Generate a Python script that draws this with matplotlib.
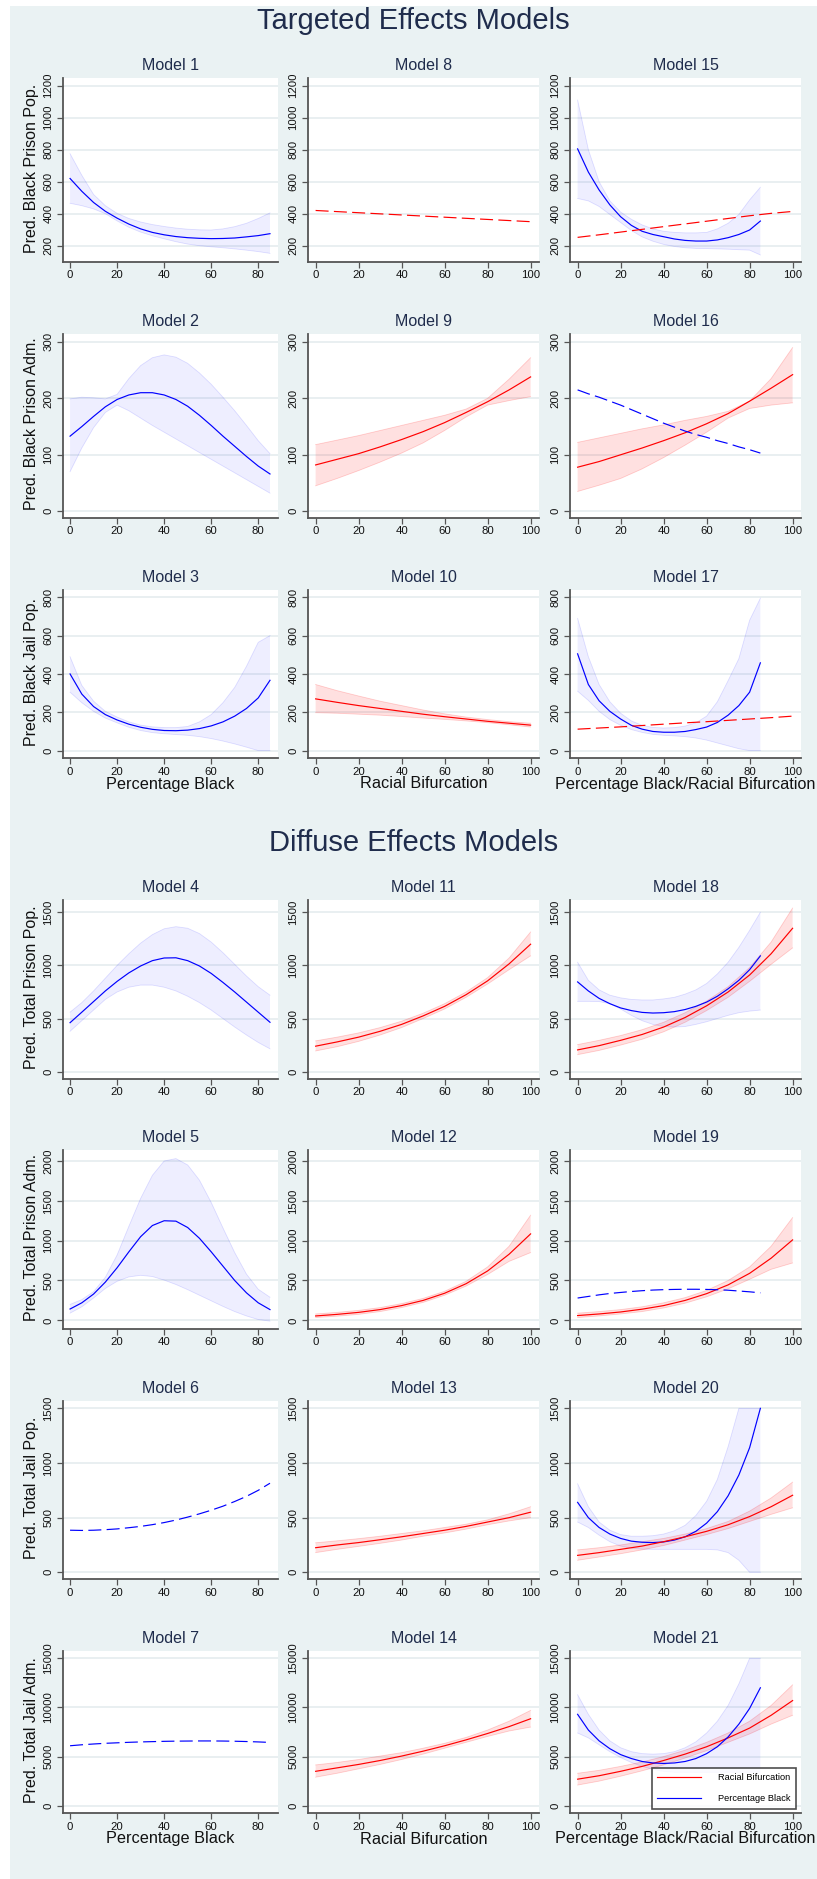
import matplotlib
matplotlib.use("Agg")
import matplotlib.pyplot as plt
from matplotlib.lines import Line2D
from matplotlib.patches import Rectangle

plt.rcParams["font.family"] = ["Liberation Sans", "DejaVu Sans"]

# x grids
pb = [0, 5, 10, 15, 20, 25, 30, 35, 40, 45, 50, 55, 60, 65, 70, 75, 80, 85]
rb = [0, 10, 20, 30, 40, 50, 60, 70, 80, 90, 100]

# ---- Targeted effects ----
m1_fit = [620, 540, 470, 415, 372, 335, 305, 283, 268, 257, 250, 246, 244, 245, 248, 255, 263, 275]
m1_hi = [775, 640, 520, 450, 402, 370, 348, 332, 320, 310, 303, 299, 298, 305, 319, 340, 370, 405]
m1_lo = [465, 450, 430, 400, 355, 315, 285, 262, 243, 225, 210, 200, 193, 187, 180, 172, 163, 152]

m8_rb = [420, 413, 406, 399, 392, 385, 378, 371, 364, 357, 350]

m15_fit = [805, 660, 548, 455, 381, 327, 290, 270, 256, 242, 233, 229, 229, 236, 250, 270, 298, 354]
m15_hi = [1110, 800, 600, 480, 410, 365, 330, 305, 290, 283, 280, 280, 283, 305, 340, 395, 486, 565]
m15_lo = [495, 480, 445, 395, 345, 295, 255, 228, 208, 195, 187, 183, 182, 180, 178, 175, 172, 142]
m15_rb = [252, 268, 285, 302, 319, 336, 353, 370, 387, 402, 414]

m2_fit = [133, 150, 168, 185, 198, 206, 210, 210, 206, 198, 186, 170, 152, 133, 115, 97, 80, 66]
m2_hi = [199, 202, 201, 199, 207, 235, 258, 272, 277, 273, 262, 245, 225, 202, 178, 152, 125, 102]
m2_lo = [70, 112, 148, 175, 188, 178, 165, 152, 140, 128, 116, 104, 92, 80, 68, 56, 44, 32]

m9_fit = [82, 92, 102, 114, 127, 141, 157, 175, 194, 215, 238]
m9_hi = [118, 126, 134, 143, 152, 161, 170, 181, 200, 234, 272]
m9_lo = [45, 58, 72, 87, 103, 121, 143, 167, 188, 196, 203]

m16_fit = [78, 88, 100, 112, 125, 139, 155, 173, 195, 218, 242]
m16_hi = [122, 130, 138, 146, 153, 161, 168, 177, 195, 235, 290]
m16_lo = [35, 46, 58, 75, 95, 117, 140, 165, 182, 188, 192]
m16_pb = [215, 208, 202, 195, 188, 180, 172, 164, 156, 149, 142, 136, 131, 125, 120, 114, 109, 103]

m3_fit = [400, 295, 230, 188, 160, 138, 122, 111, 105, 104, 107, 115, 129, 150, 180, 220, 275, 367]
m3_hi = [490, 340, 258, 205, 175, 150, 133, 124, 120, 120, 126, 150, 188, 250, 330, 440, 565, 600]
m3_lo = [305, 250, 205, 170, 145, 122, 105, 94, 88, 84, 80, 73, 63, 50, 35, 18, 0, 0]

m10_fit = [270, 252, 235, 220, 205, 190, 177, 165, 153, 143, 133]
m10_hi = [345, 313, 285, 258, 235, 212, 192, 175, 162, 151, 143]
m10_lo = [198, 195, 190, 185, 178, 170, 163, 155, 146, 135, 123]

m17_fit = [505, 345, 260, 205, 165, 132, 112, 100, 96, 96, 100, 110, 123, 147, 185, 235, 305, 458]
m17_hi = [690, 490, 345, 255, 195, 155, 132, 121, 118, 120, 128, 145, 180, 255, 365, 480, 680, 795]
m17_lo = [310, 262, 205, 162, 132, 110, 95, 85, 80, 77, 73, 66, 55, 40, 25, 10, 0, 0]
m17_rb = [112, 118, 124, 131, 138, 145, 151, 158, 165, 172, 180]

# ---- Diffuse effects ----
m4_fit = [461, 560, 660, 760, 850, 930, 995, 1045, 1070, 1072, 1045, 995, 925, 840, 750, 655, 560, 465]
m4_hi = [560, 650, 760, 880, 1000, 1110, 1210, 1290, 1345, 1365, 1350, 1300, 1220, 1120, 1010, 900, 800, 720]
m4_lo = [380, 480, 580, 680, 750, 795, 815, 815, 795, 760, 710, 650, 580, 500, 420, 345, 275, 215]

m11_fit = [240, 280, 325, 380, 445, 525, 615, 725, 855, 1015, 1200]
m11_hi = [290, 325, 365, 415, 475, 550, 640, 750, 885, 1070, 1315]
m11_lo = [195, 235, 285, 345, 415, 500, 590, 700, 825, 960, 1090]

m18_fit = [205, 245, 295, 350, 420, 510, 620, 750, 910, 1110, 1350]
m18_hi = [255, 295, 340, 395, 465, 555, 665, 800, 980, 1220, 1540]
m18_lo = [160, 200, 250, 305, 375, 465, 575, 700, 850, 1010, 1165]
m18_pb_fit = [845, 760, 690, 640, 600, 575, 558, 552, 555, 565, 585, 615, 655, 710, 780, 860, 960, 1090]
m18_pb_hi = [1030, 860, 770, 720, 695, 680, 675, 675, 685, 700, 730, 770, 830, 920, 1030, 1170, 1330, 1500]
m18_pb_lo = [662, 662, 660, 640, 590, 530, 480, 445, 425, 420, 425, 445, 470, 500, 530, 555, 570, 580]

m5_fit = [142, 220, 330, 480, 660, 860, 1050, 1190, 1250, 1245, 1165, 1030, 860, 680, 500, 345, 220, 135]
m5_hi = [200, 260, 360, 540, 820, 1180, 1530, 1820, 2000, 2030, 1950, 1760, 1480, 1160, 850, 580, 390, 290]
m5_lo = [90, 170, 280, 400, 490, 545, 565, 550, 505, 450, 385, 315, 245, 175, 110, 55, 10, -10]

m12_fit = [55, 75, 100, 135, 185, 250, 340, 460, 620, 830, 1085]
m12_hi = [80, 100, 125, 160, 210, 275, 365, 490, 670, 930, 1320]
m12_lo = [35, 52, 75, 110, 160, 225, 315, 430, 575, 740, 850]

m19_fit = [60, 80, 105, 140, 185, 250, 335, 445, 590, 780, 1010]
m19_hi = [90, 110, 135, 170, 220, 285, 375, 500, 670, 930, 1290]
m19_lo = [35, 55, 80, 110, 155, 215, 295, 395, 515, 640, 720]
m19_pb = [280, 300, 320, 337, 350, 362, 372, 380, 385, 388, 390, 390, 388, 384, 378, 368, 358, 345]

m6_pb = [385, 383, 385, 390, 397, 408, 420, 436, 455, 478, 505, 535, 568, 605, 648, 695, 750, 815]

m13_fit = [225, 250, 272, 298, 325, 355, 385, 420, 460, 500, 550]
m13_hi = [270, 288, 308, 330, 355, 380, 410, 440, 480, 535, 600]
m13_lo = [180, 210, 237, 265, 295, 330, 360, 395, 435, 470, 500]

m20_fit = [155, 180, 210, 240, 280, 325, 375, 435, 510, 600, 705]
m20_hi = [205, 225, 250, 280, 310, 350, 400, 465, 560, 680, 825]
m20_lo = [110, 140, 170, 205, 245, 295, 345, 400, 465, 530, 590]
m20_pb_fit = [640, 500, 410, 350, 310, 285, 275, 272, 278, 295, 325, 375, 450, 555, 700, 890, 1140, 1500]
m20_pb_hi = [810, 600, 460, 385, 345, 330, 330, 335, 350, 380, 430, 520, 650, 850, 1150, 1500, 1500, 1500]
m20_pb_lo = [460, 410, 340, 280, 240, 220, 212, 210, 210, 210, 210, 210, 210, 205, 180, 110, 0, 0]

m7_pb = [6100, 6200, 6280, 6350, 6400, 6450, 6490, 6520, 6550, 6570, 6580, 6590, 6590, 6580, 6560, 6530, 6490, 6440]

m14_fit = [3500, 3850, 4200, 4600, 5050, 5550, 6100, 6700, 7350, 8050, 8850]
m14_hi = [4150, 4400, 4700, 5050, 5400, 5850, 6350, 6950, 7700, 8600, 9700]
m14_lo = [2900, 3300, 3750, 4200, 4700, 5250, 5850, 6450, 7050, 7600, 8000]

m21_fit = [2700, 3050, 3500, 4000, 4600, 5250, 6000, 6900, 7900, 9200, 10700]
m21_hi = [3300, 3600, 4000, 4450, 5000, 5650, 6450, 7400, 8600, 10200, 12300]
m21_lo = [2100, 2500, 3000, 3550, 4150, 4850, 5600, 6450, 7300, 8300, 9200]
m21_pb_fit = [9300, 7700, 6600, 5800, 5200, 4800, 4500, 4350, 4300, 4350, 4500, 4800, 5300, 6000, 7000, 8300, 9900, 12000]
m21_pb_hi = [11300, 9300, 7700, 6600, 5900, 5500, 5300, 5250, 5300, 5500, 5900, 6500, 7400, 8600, 10200, 12400, 15000, 15000]
m21_pb_lo = [7400, 6900, 6200, 5500, 4900, 4400, 4000, 3700, 3500, 3400, 3400, 3400, 3400, 3400, 3400, 3400, 3400, 3400]

row_ylabels = ["Pred. Black Prison Pop.", "Pred. Black Prison Adm.", "Pred. Black Jail Pop.",
               "Pred. Total Prison Pop.", "Pred. Total Prison Adm.", "Pred. Total Jail Pop.",
               "Pred. Total Jail Adm."]
row_yticks = [[200, 400, 600, 800, 1000, 1200], [0, 100, 200, 300], [0, 200, 400, 600, 800],
              [0, 500, 1000, 1500], [0, 500, 1000, 1500, 2000], [0, 500, 1000, 1500],
              [0, 5000, 10000, 15000]]
xlabels = ["Percentage Black", "Racial Bifurcation", "Percentage Black/Racial Bifurcation"]

BLUE, RED = "#0000FF", "#FF0000"

# (row, col, model number, layers); layer = (kind, x, y[, lo, hi])
panels = [
    (0, 0, 1, [("band", pb, m1_fit, m1_lo, m1_hi, BLUE)]),
    (0, 1, 8, [("dash", rb, m8_rb, RED)]),
    (0, 2, 15, [("band", pb, m15_fit, m15_lo, m15_hi, BLUE), ("dash", rb, m15_rb, RED)]),
    (1, 0, 2, [("band", pb, m2_fit, m2_lo, m2_hi, BLUE)]),
    (1, 1, 9, [("band", rb, m9_fit, m9_lo, m9_hi, RED)]),
    (1, 2, 16, [("band", rb, m16_fit, m16_lo, m16_hi, RED), ("dash", pb, m16_pb, BLUE)]),
    (2, 0, 3, [("band", pb, m3_fit, m3_lo, m3_hi, BLUE)]),
    (2, 1, 10, [("band", rb, m10_fit, m10_lo, m10_hi, RED)]),
    (2, 2, 17, [("band", pb, m17_fit, m17_lo, m17_hi, BLUE), ("dash", rb, m17_rb, RED)]),
    (3, 0, 4, [("band", pb, m4_fit, m4_lo, m4_hi, BLUE)]),
    (3, 1, 11, [("band", rb, m11_fit, m11_lo, m11_hi, RED)]),
    (3, 2, 18, [("band", pb, m18_pb_fit, m18_pb_lo, m18_pb_hi, BLUE),
                ("band", rb, m18_fit, m18_lo, m18_hi, RED)]),
    (4, 0, 5, [("band", pb, m5_fit, m5_lo, m5_hi, BLUE)]),
    (4, 1, 12, [("band", rb, m12_fit, m12_lo, m12_hi, RED)]),
    (4, 2, 19, [("band", rb, m19_fit, m19_lo, m19_hi, RED), ("dash", pb, m19_pb, BLUE)]),
    (5, 0, 6, [("dash", pb, m6_pb, BLUE)]),
    (5, 1, 13, [("band", rb, m13_fit, m13_lo, m13_hi, RED)]),
    (5, 2, 20, [("band", pb, m20_pb_fit, m20_pb_lo, m20_pb_hi, BLUE),
                ("band", rb, m20_fit, m20_lo, m20_hi, RED)]),
    (6, 0, 7, [("dash", pb, m7_pb, BLUE)]),
    (6, 1, 14, [("band", rb, m14_fit, m14_lo, m14_hi, RED)]),
    (6, 2, 21, [("band", rb, m21_fit, m21_lo, m21_hi, RED),
                ("band", pb, m21_pb_fit, m21_pb_lo, m21_pb_hi, BLUE)]),
]

# layout in pixels
W, H = 817, 1879
cols = [(63, 278), (308.3, 539), (570.3, 801)]
rows = [(78, 262), (334, 518), (590, 758.3), (900, 1079), (1150, 1328.7), (1400.7, 1579.3), (1651, 1813.3)]
ylims = [(98, 1248), (-12, 314), (-40, 838), (-69, 1616), (-105, 2138), (-64, 1570), (-773, 15743)]
xlims = [(-3.0, 88.4), (-3.4, 103.9), (-3.4, 103.9)]
NAVY = "#1F2C4C"
BG = "#EAF2F3"
GRID = "#E3EBEE"
SPINE = "#555555"

fig = plt.figure(figsize=(W / 100, H / 100), dpi=100)
fig.patch.set_facecolor("white")
fig.patches.append(Rectangle((10 / W, 0), 1 - 10 / W, 1 - 6 / H, transform=fig.transFigure,
                             facecolor=BG, edgecolor="none", zorder=-5))


def fx(px):
    return px / W


def fy(py):
    return 1 - py / H


fig.text(fx(413.5), fy(21), "Targeted Effects Models", ha="center", va="center",
         fontsize=21, color=NAVY)
fig.text(fx(413.5), fy(843), "Diffuse Effects Models", ha="center", va="center",
         fontsize=21, color=NAVY)

axes = {}
for r, c, num, layers in panels:
    x0, x1 = cols[c]
    y0, y1 = rows[r]
    ax = fig.add_axes([fx(x0), fy(y1), (x1 - x0) / W, (y1 - y0) / H])
    axes[(r, c)] = ax
    ax.set_facecolor("white")
    for layer in layers:
        if layer[0] == "band":
            _, xs, fit, lo, hi, col = layer
            ax.fill_between(xs, lo, hi, facecolor=col, alpha=0.065 if col == BLUE else 0.12,
                            edgecolor="none", zorder=1)
            ax.plot(xs, lo, color=col, alpha=0.12 if col == BLUE else 0.18, lw=0.6, zorder=1)
            ax.plot(xs, hi, color=col, alpha=0.12 if col == BLUE else 0.18, lw=0.6, zorder=1)
    for layer in layers:
        if layer[0] == "band":
            _, xs, fit, lo, hi, col = layer
            ax.plot(xs, fit, color=col, lw=0.85, zorder=3)
        else:
            _, xs, ys, col = layer
            ax.plot(xs, ys, color=col, lw=0.85, dashes=(11, 4.5), zorder=3)

    ax.set_xlim(*xlims[c])
    ax.set_ylim(*ylims[r])
    ax.set_xticks([0, 20, 40, 60, 80] if c == 0 else [0, 20, 40, 60, 80, 100])
    ax.set_yticks(row_yticks[r])
    ax.yaxis.grid(True, color=GRID, lw=1.1)
    ax.set_axisbelow(True)
    for s in ("top", "right"):
        ax.spines[s].set_visible(False)
    for s in ("left", "bottom"):
        ax.spines[s].set_color(SPINE)
        ax.spines[s].set_linewidth(1.3)
    ax.tick_params(direction="out", length=4, width=0.9, color=SPINE, labelsize=8.2,
                   labelcolor="#111111")
    ax.tick_params(axis="x", pad=2)
    ax.tick_params(axis="y", pad=3, labelrotation=90)
    plt.setp(ax.get_yticklabels(), va="center")

    fig.text(fx((x0 + x1) / 2), fy(y0 - 12.5), f"Model {num}", ha="center", va="center",
             fontsize=11.5, color=NAVY)

for r, lab in enumerate(row_ylabels):
    y0, y1 = rows[r]
    fig.text(fx(32), fy((y0 + y1) / 2 - 2), lab, rotation=90, ha="center", va="center",
             fontsize=11.5, color="#111111")

for yb in (784, 1839):
    for c, lab in enumerate(xlabels):
        x0, x1 = cols[c]
        fig.text(fx((x0 + x1) / 2), fy(yb), lab, ha="center", va="center",
                 fontsize=11.7, color="#111111")

handles = [Line2D([], [], color=RED, lw=0.85), Line2D([], [], color=BLUE, lw=0.85)]
leg = axes[(6, 2)].legend(handles, ["Racial Bifurcation", "Percentage Black"],
                          loc="lower right", bbox_to_anchor=(0.978, 0.0265), borderaxespad=0,
                          fontsize=6.7, handlelength=4.7, handletextpad=1.8, labelspacing=1.3,
                          borderpad=0.6, frameon=True, fancybox=False)
leg.get_frame().set_edgecolor("#222222")
leg.get_frame().set_linewidth(1.2)
leg.get_frame().set_facecolor("white")
leg.set_zorder(10)

fig.savefig("out.png", dpi=100)
